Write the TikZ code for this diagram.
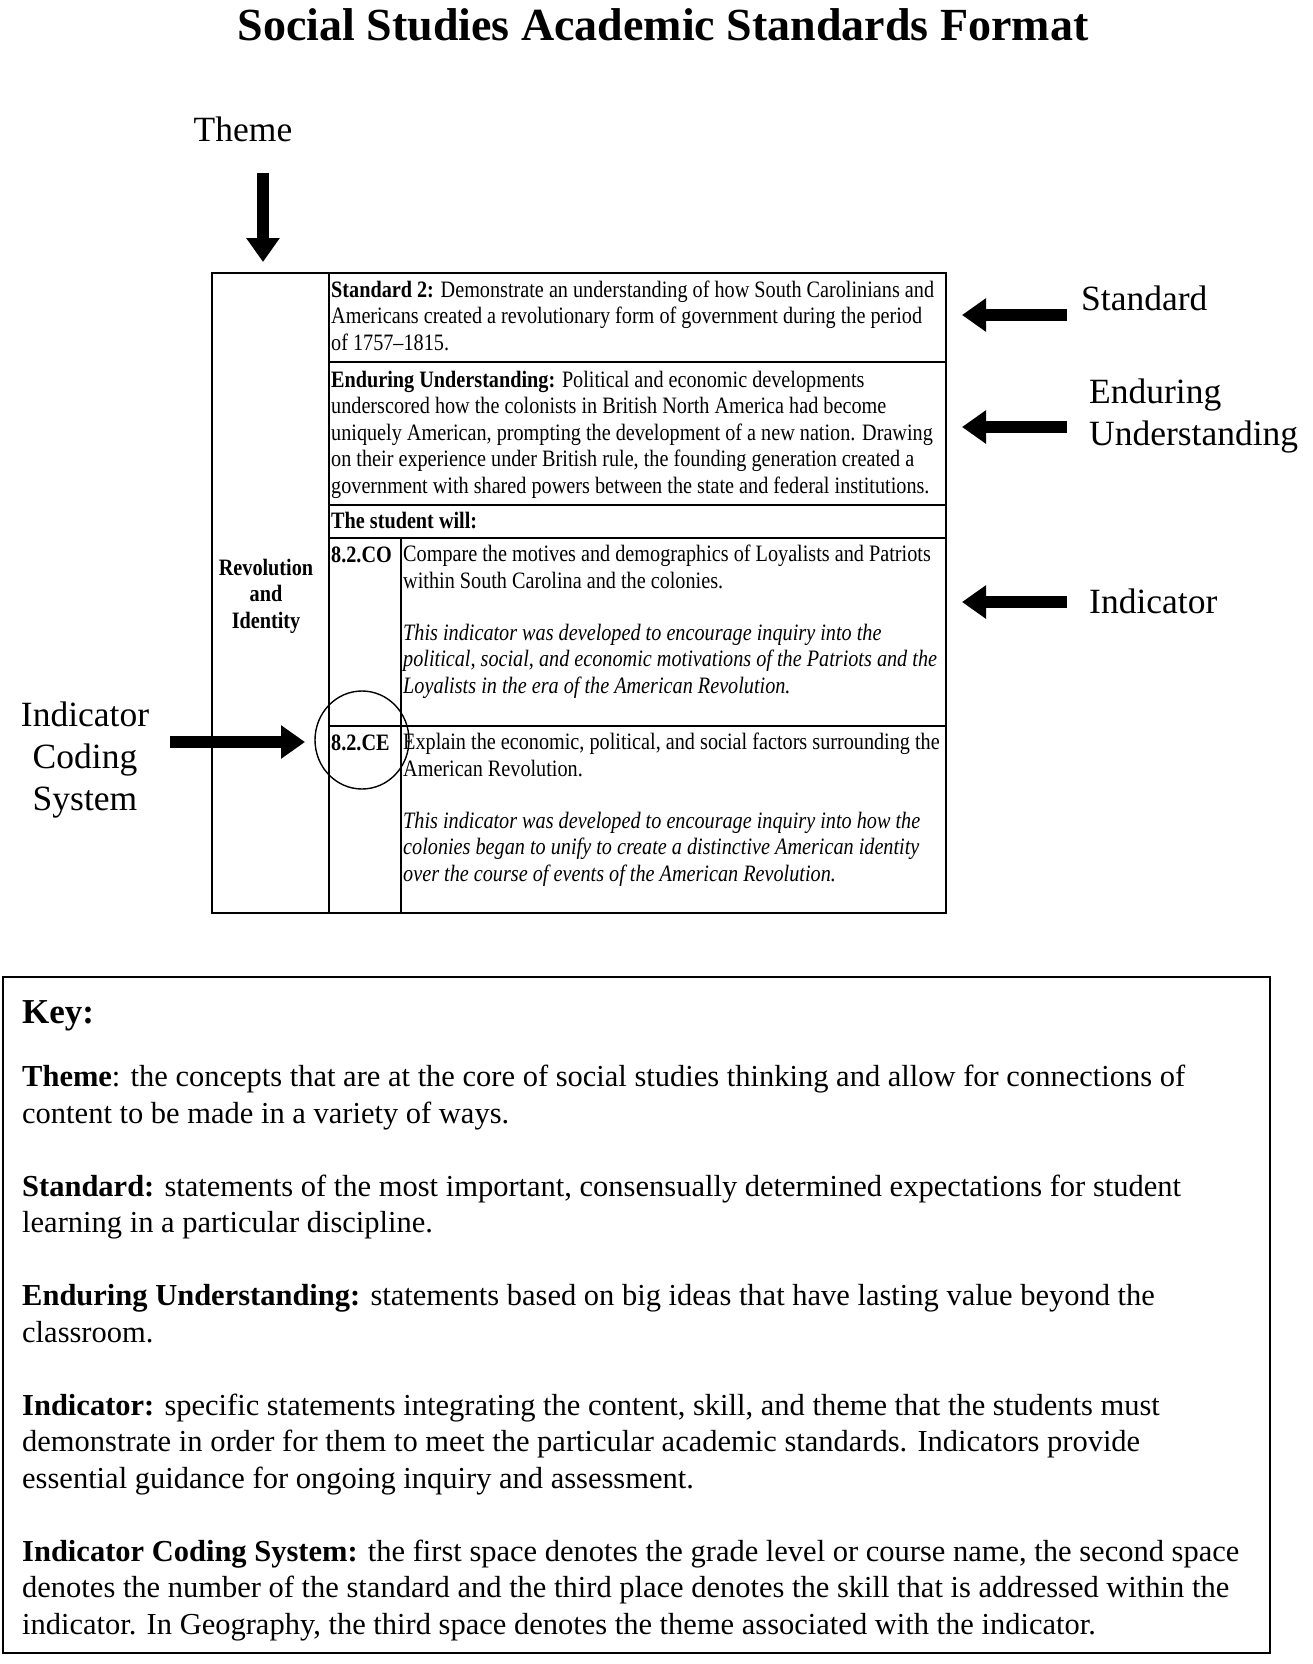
\documentclass[tikz,border=0pt]{standalone}
\usepackage{fontspec}
\setmainfont{Liberation Serif}
\newfontfamily\tabfont{Liberation Serif}[FakeStretch=0.86,Ligatures=TeX]
\usepackage{tikz}
\usetikzlibrary{positioning,calc,arrows.meta}

\begin{document}
\begin{tikzpicture}[x=1pt,y=-1pt,
    tabtext/.style={inner sep=0pt, anchor=base west, align=left, font=\tabfont\fontsize{23.5}{26.5}\selectfont},
    sidelabel/.style={inner sep=0pt, anchor=base west, align=left, font=\fontsize{35.5}{42}\selectfont},
    fatarrow/.style={line width=12pt, -{Triangle[length=24pt,width=32pt]}},
    tabline/.style={line width=1.6pt}]
    \useasboundingbox (0,0) rectangle (1312,1664);

    % title
    \node[inner sep=0pt, anchor=base, font=\bfseries\fontsize{46}{50}\selectfont] (title) at (663,41) {Social Studies Academic Standards Format};

    % theme label and arrow
    \node[inner sep=0pt, anchor=base, font=\fontsize{35.5}{42}\selectfont] (theme) at (243,142) {Theme};
    \coordinate (themetail) at (263,173);
    \coordinate (themetip) at (263,262);
    \draw[fatarrow] (themetail) -- (themetip);

    % table frame
    \draw[tabline] (212,273) rectangle (946,913);
    \draw[tabline] (329,273) -- (329,913);
    \draw[tabline] (401,538) -- (401,913);
    \draw[tabline] (329,362) -- (946,362);
    \draw[tabline] (329,505) -- (946,505);
    \draw[tabline] (329,538) -- (946,538);
    \draw[tabline] (329,726) -- (946,726);

    % table texts (a node's base is its last line)
    \node[inner sep=0pt, anchor=base, align=center, font=\tabfont\bfseries\fontsize{23.5}{26.5}\selectfont] (revid) at (266,628) {Revolution\\and\\Identity};
    \node[tabtext] (std) at (331,350) {\textbf{Standard 2:} Demonstrate an understanding of how South Carolinians and\\Americans created a revolutionary form of government during the period\\of 1757–1815.};
    \node[tabtext] (eu) at (331,493) {\textbf{Enduring Understanding:} Political and economic developments\\underscored how the colonists in British North America had become\\uniquely American, prompting the development of a new nation. Drawing\\on their experience under British rule, the founding generation created a\\government with shared powers between the state and federal institutions.};
    \node[tabtext, font=\tabfont\bfseries\fontsize{23.5}{26.5}\selectfont] (will) at (331,528) {The student will:};
    \node[tabtext, font=\tabfont\bfseries\fontsize{23.5}{26.5}\selectfont] (co) at (331,562) {8.2.CO};
    \node[tabtext] (cotext) at (403,588) {Compare the motives and demographics of Loyalists and Patriots\\within South Carolina and the colonies.};
    \node[tabtext, font=\tabfont\itshape\fontsize{23.5}{26.5}\selectfont] (conote) at (403,693) {This indicator was developed to encourage inquiry into the\\political, social, and economic motivations of the Patriots and the\\Loyalists in the era of the American Revolution.};
    \node[tabtext, font=\tabfont\bfseries\fontsize{23.5}{26.5}\selectfont] (ce) at (331,750) {8.2.CE};
    \node[tabtext] (cetext) at (403,776) {Explain the economic, political, and social factors surrounding the\\American Revolution.};
    \node[tabtext, font=\tabfont\itshape\fontsize{23.5}{26.5}\selectfont] (cenote) at (403,881) {This indicator was developed to encourage inquiry into how the\\colonies began to unify to create a distinctive American identity\\over the course of events of the American Revolution.};

    % circle round the code
    \draw[line width=1.4pt] (362,740) circle [x radius=47pt, y radius=49pt];

    % right labels and arrows
    \node[sidelabel] (stdlabel) at (1081,310) {Standard};
    \node[sidelabel] (eulabel) at (1089,445) {Enduring\\Understanding};
    \node[sidelabel] (indlabel) at (1089,613) {Indicator};
    \coordinate (stdtail) at (1067,315);
    \coordinate (stdtip) at (962,315);
    \coordinate (eutail) at (1067,427);
    \coordinate (eutip) at (962,427);
    \coordinate (indtail) at (1067,602);
    \coordinate (indtip) at (962,602);
    \draw[fatarrow] (stdtail) -- (stdtip);
    \draw[fatarrow] (eutail) -- (eutip);
    \draw[fatarrow] (indtail) -- (indtip);

    % left label and arrow
    \node[sidelabel, anchor=base, align=center] (codelabel) at (85,810) {Indicator\\Coding\\System};
    \coordinate (codetail) at (170,742);
    \coordinate (codetip) at (305,742);
    \draw[fatarrow] (codetail) -- (codetip);

    % key
    \draw[line width=1.8pt] (3,977) rectangle (1270,1653);
    \node[inner sep=0pt, anchor=base west, font=\bfseries\fontsize{35}{40}\selectfont] (key) at (22,1023) {Key:};
    \node[inner sep=0pt, anchor=base west, align=left, font=\fontsize{30.5}{36.5}\selectfont] (keytext) at (22,1634) {\textbf{Theme}: the concepts that are at the core of social studies thinking and allow for connections of\\content to be made in a variety of ways.\\[36.5pt]
    \textbf{Standard:} statements of the most important, consensually determined expectations for student\\learning in a particular discipline.\\[36.5pt]
    \textbf{Enduring Understanding:} statements based on big ideas that have lasting value beyond the\\classroom.\\[36.5pt]
    \textbf{Indicator:} specific statements integrating the content, skill, and theme that the students must\\demonstrate in order for them to meet the particular academic standards. Indicators provide\\essential guidance for ongoing inquiry and assessment.\\[36.5pt]
    \textbf{Indicator Coding System:} the first space denotes the grade level or course name, the second space\\denotes the number of the standard and the third place denotes the skill that is addressed within the\\indicator. In Geography, the third space denotes the theme associated with the indicator.};
\end{tikzpicture}
\end{document}
